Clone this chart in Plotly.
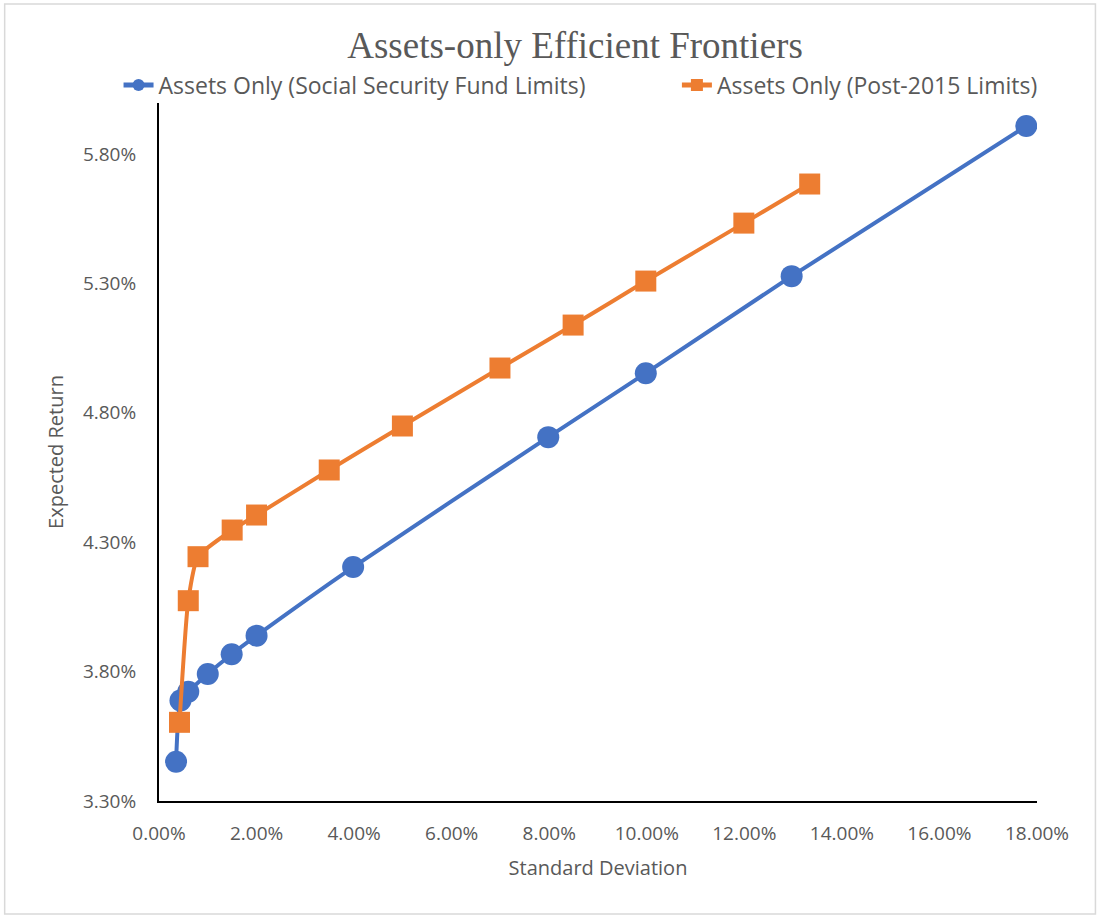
import plotly.graph_objects as go

# Standard deviation (%) and expected return (%)
ssf_sd = [0.35, 0.44, 0.60, 1.00, 1.49, 2.00, 3.98, 7.98, 9.98, 12.97, 17.78]
ssf_ret = [3.452, 3.688, 3.722, 3.791, 3.867, 3.939, 4.204, 4.706, 4.953, 5.328, 5.908]

post_sd = [0.42, 0.60, 0.80, 1.50, 2.00, 3.49, 4.99, 6.99, 8.49, 9.98, 11.99, 13.34]
post_ret = [3.604, 4.074, 4.244, 4.347, 4.405, 4.579, 4.749, 4.973, 5.139, 5.309, 5.533, 5.684]

x_ticks = [0, 2, 4, 6, 8, 10, 12, 14, 16, 18]
y_ticks = [3.3, 3.8, 4.3, 4.8, 5.3, 5.8]
x_labels = [f"{v:.2f}%" for v in x_ticks]
y_labels = [f"{v:.2f}%" for v in y_ticks]

BLUE = "#4472C4"
ORANGE = "#ED7D31"
GREY = "#595959"

fig = go.Figure()
fig.add_trace(go.Scatter(
    x=ssf_sd, y=ssf_ret, mode="lines+markers",
    name="Assets Only (Social Security Fund Limits)",
    line=dict(color=BLUE, width=4, shape="spline", smoothing=0.5),
    marker=dict(symbol="circle", size=22, color=BLUE),
    legend="legend",
))
fig.add_trace(go.Scatter(
    x=post_sd, y=post_ret, mode="lines+markers",
    name="Assets Only (Post-2015 Limits)",
    line=dict(color=ORANGE, width=4, shape="spline", smoothing=0.5),
    marker=dict(symbol="square", size=21, color=ORANGE),
    legend="legend2",
))

W, H = 1101, 918
L, R, T, B = 158.5, 1037.5, 103, 801
pw, ph = R - L, B - T

def px(xp):
    return (xp - L) / pw

def py(yp):
    return (B - yp) / ph

leg_common = dict(orientation="h", xanchor="left", y=py(85), yanchor="middle",
                  font=dict(family="Open Sans", size=23, color=GREY),
                  itemsizing="constant", bgcolor="rgba(0,0,0,0)")

fig.update_layout(
    width=W, height=H,
    margin=dict(l=L, r=W - R, t=T, b=H - B, pad=0),
    paper_bgcolor="white", plot_bgcolor="white",
    title=dict(text="Assets-only Efficient Frontiers", x=575 / W, xanchor="center",
               y=1 - 45 / H, yanchor="middle", yref="container",
               font=dict(family="Liberation Serif", size=37, color=GREY)),
    legend=dict(x=px(118), **leg_common),
    legend2=dict(x=px(677), **leg_common),
    showlegend=True,
    xaxis=dict(range=[0, 18], tickvals=x_ticks, ticktext=x_labels,
               showgrid=False, zeroline=False, showline=True, linecolor="black", linewidth=2,
               ticks="", ticklabelstandoff=14, tickfont=dict(family="Open Sans", size=19, color=GREY),
               title=dict(text="Standard Deviation", standoff=16,
                          font=dict(family="Open Sans", size=20, color=GREY))),
    yaxis=dict(range=[3.3, 3.3 + ph / 258.8], tickvals=y_ticks, ticktext=y_labels,
               showgrid=False, zeroline=False, showline=True, linecolor="black", linewidth=2,
               ticks="", ticklabelstandoff=17, tickfont=dict(family="Open Sans", size=19, color=GREY),
               title=dict(text="Expected Return", standoff=14,
                          font=dict(family="Open Sans", size=20, color=GREY))),
    shapes=[dict(type="rect", xref="paper", yref="paper",
                 x0=px(4), x1=px(1096), y0=py(914), y1=py(4),
                 line=dict(color="#D9D9D9", width=1.5), fillcolor="rgba(0,0,0,0)", layer="below")],
)

fig.write_html("out.html")
